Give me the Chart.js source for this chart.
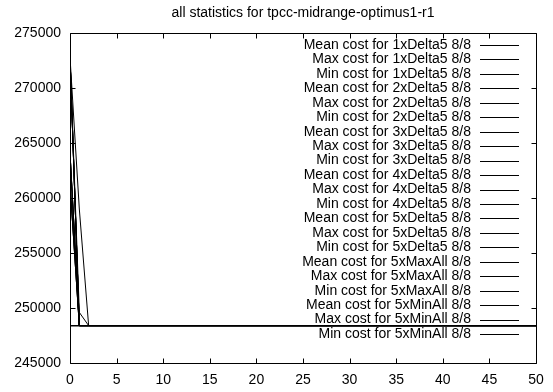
<!DOCTYPE html>
<html><head><meta charset="utf-8">
<script src="https://cdn.jsdelivr.net/npm/chart.js@4"></script>
<style>html,body{margin:0;padding:0;background:#fff}#wrap{width:553px;height:392px}</style>
</head><body><div id="wrap"><canvas id="c" width="553" height="392"></canvas></div>
<script>
const chartTitle = "all statistics for tpcc-midrange-optimus1-r1";
// iteration positions where the values change (linear between them)
const steps = [0, 1, 2, 50];
const seriesNames = [
  "Mean cost for 1xDelta5 8/8", "Max cost for 1xDelta5 8/8", "Min cost for 1xDelta5 8/8",
  "Mean cost for 2xDelta5 8/8", "Max cost for 2xDelta5 8/8", "Min cost for 2xDelta5 8/8",
  "Mean cost for 3xDelta5 8/8", "Max cost for 3xDelta5 8/8", "Min cost for 3xDelta5 8/8",
  "Mean cost for 4xDelta5 8/8", "Max cost for 4xDelta5 8/8", "Min cost for 4xDelta5 8/8",
  "Mean cost for 5xDelta5 8/8", "Max cost for 5xDelta5 8/8", "Min cost for 5xDelta5 8/8",
  "Mean cost for 5xMaxAll 8/8", "Max cost for 5xMaxAll 8/8", "Min cost for 5xMaxAll 8/8",
  "Mean cost for 5xMinAll 8/8", "Max cost for 5xMinAll 8/8", "Min cost for 5xMinAll 8/8"
];
const mean1xDelta5 = [264100, 248400, 248400, 248400];
const max1xDelta5  = [272800, 248400, 248400, 248400];
const min1xDelta5  = [248400, 248400, 248400, 248400];
const mean2xDelta5 = [261300, 248400, 248400, 248400];
const max2xDelta5  = [272800, 259000, 248400, 248400];
const min2xDelta5  = [248400, 248400, 248400, 248400];
const mean3xDelta5 = [264100, 248400, 248400, 248400];
const max3xDelta5  = [272800, 249600, 248400, 248400];
const min3xDelta5  = [248400, 248400, 248400, 248400];
const mean4xDelta5 = [261300, 248400, 248400, 248400];
const max4xDelta5  = [272800, 248400, 248400, 248400];
const min4xDelta5  = [248400, 248400, 248400, 248400];
const mean5xDelta5 = [264100, 248400, 248400, 248400];
const max5xDelta5  = [272800, 248400, 248400, 248400];
const min5xDelta5  = [248400, 248400, 248400, 248400];
const mean5xMaxAll = [261300, 248400, 248400, 248400];
const max5xMaxAll  = [272800, 248400, 248400, 248400];
const min5xMaxAll  = [248400, 248400, 248400, 248400];
const mean5xMinAll = [264100, 248400, 248400, 248400];
const max5xMinAll  = [272800, 248400, 248400, 248400];
const min5xMinAll  = [248400, 248400, 248400, 248400];
const xTicks = [0, 5, 10, 15, 20, 25, 30, 35, 40, 45, 50];
const yTicks = [245000, 250000, 255000, 260000, 265000, 270000, 275000];

const allSeries = [mean1xDelta5, max1xDelta5, min1xDelta5, mean2xDelta5, max2xDelta5, min2xDelta5,
  mean3xDelta5, max3xDelta5, min3xDelta5, mean4xDelta5, max4xDelta5, min4xDelta5,
  mean5xDelta5, max5xDelta5, min5xDelta5, mean5xMaxAll, max5xMaxAll, min5xMaxAll,
  mean5xMinAll, max5xMinAll, min5xMinAll];

const FONT = '"Liberation Sans", Arial, Helvetica, sans-serif';

const datasets = allSeries.map((vals, i) => ({
  label: seriesNames[i],
  data: vals.map((v, j) => ({x: steps[j], y: v})),
  borderColor: '#000',
  borderWidth: 1,
  pointRadius: 0,
  tension: 0,
  fill: false
}));

const gnuplotFrame = {
  id: 'gnuplotFrame',
  afterDatasetsDraw(chart) {
    const {ctx, chartArea: a, scales: {x, y}} = chart;
    ctx.save();
    ctx.strokeStyle = '#000';
    ctx.lineWidth = 1;
    const L = Math.round(a.left) + 0.5, R = Math.round(a.right) + 0.5;
    const T = Math.round(a.top) + 0.5, B = Math.round(a.bottom) + 0.5;
    ctx.beginPath();
    ctx.rect(L, T, R - L, B - T);
    xTicks.forEach(v => {
      const px = Math.round(x.getPixelForValue(v)) + 0.5;
      ctx.moveTo(px, B); ctx.lineTo(px, B - 5);
      ctx.moveTo(px, T); ctx.lineTo(px, T + 5);
    });
    yTicks.forEach(v => {
      const py = Math.round(y.getPixelForValue(v)) + 0.5;
      ctx.moveTo(L, py); ctx.lineTo(L + 5, py);
      ctx.moveTo(R, py); ctx.lineTo(R - 5, py);
    });
    ctx.stroke();
    // key
    ctx.font = '14px ' + FONT;
    ctx.textAlign = 'right';
    ctx.textBaseline = 'middle';
    ctx.fillStyle = '#000';
    chart.data.datasets.forEach((ds, i) => {
      const yy = a.top + 12 + i * 14.45;
      ctx.fillText(ds.label, a.right - 65, yy);
      ctx.beginPath();
      ctx.moveTo(a.right - 56, Math.round(yy) + 0.5);
      ctx.lineTo(a.right - 17, Math.round(yy) + 0.5);
      ctx.stroke();
    });
    // title
    ctx.font = '14px ' + FONT;
    ctx.textAlign = 'center';
    ctx.fillText(chartTitle, (a.left + a.right) / 2, 13);
    ctx.restore();
  }
};

new Chart(document.getElementById('c'), {
  type: 'line',
  data: { datasets },
  options: {
    responsive: false,
    animation: false,
    devicePixelRatio: 1,
    layout: { padding: { left: 0, right: 17, top: 33, bottom: 0 } },
    plugins: { legend: { display: false }, title: { display: false }, tooltip: { enabled: false } },
    scales: {
      x: {
        type: 'linear', min: 0, max: 50,
        grid: { display: false, drawTicks: false },
        border: { display: false },
        afterBuildTicks: s => { s.ticks = xTicks.map(v => ({value: v})); },
        afterFit: s => { s.height = 29; },
        ticks: { color: '#000', padding: 9, maxRotation: 0, autoSkip: false,
                 font: { family: FONT, size: 14 }, callback: v => String(v) }
      },
      y: {
        type: 'linear', min: 245000, max: 275000,
        grid: { display: false, drawTicks: false },
        border: { display: false },
        afterBuildTicks: s => { s.ticks = yTicks.map(v => ({value: v})); },
        afterFit: s => { s.width = 70; },
        ticks: { color: '#000', padding: 9, autoSkip: false,
                 font: { family: FONT, size: 14 }, callback: v => String(v) }
      }
    }
  },
  plugins: [gnuplotFrame]
});
</script>
</body></html>
